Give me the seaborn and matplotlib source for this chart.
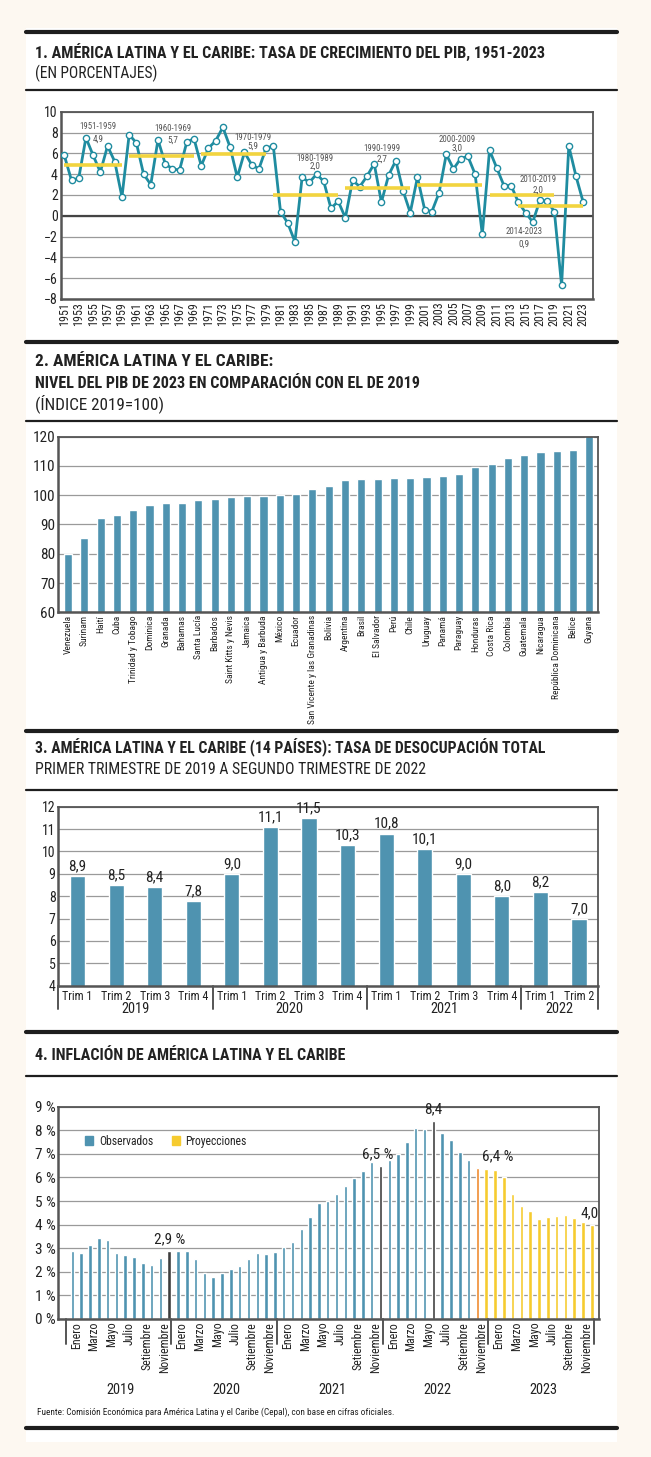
import matplotlib
matplotlib.use('Agg')
import matplotlib.pyplot as plt
import pandas as pd
import seaborn as sns
from matplotlib import font_manager
from matplotlib.lines import Line2D
from matplotlib.patches import Rectangle
from matplotlib.transforms import blended_transform_factory

W, H = 651, 1457

# ---------------------------------------------------------------- data
years = list(range(1951, 2024))
growth = [5.8, 3.4, 3.6, 7.5, 5.8, 4.2, 6.7, 5.2, 1.8,
          7.8, 7.0, 4.0, 3.0, 7.3, 5.0, 4.5, 4.4, 7.1, 7.4,
          4.8, 6.5, 7.2, 8.5, 6.6, 3.7, 6.1, 4.9, 4.5, 6.5,
          6.7, 0.4, -0.7, -2.5, 3.7, 3.2, 4.0, 3.3, 0.7, 1.4,
          -0.2, 3.4, 2.8, 3.8, 5.0, 1.3, 3.9, 5.3, 2.4, 0.3,
          3.7, 0.6, 0.4, 2.2, 5.9, 4.5, 5.5, 5.7, 4.0, -1.8,
          6.3, 4.6, 2.9, 2.9, 1.3, 0.3, -0.6, 1.5, 1.4, 0.4,
          -6.7, 6.7, 3.8, 1.3]
periods = ['1951-1959', '1960-1969', '1970-1979', '1980-1989',
           '1990-1999', '2000-2009', '2010-2019', '2014-2023']
period_start = [1951, 1960, 1970, 1980, 1990, 2000, 2010, 2014]
period_end = [1959, 1969, 1979, 1989, 1999, 2009, 2019, 2023]
period_avg = [4.9, 5.7, 5.9, 2.0, 2.7, 3.0, 2.0, 0.9]

countries = ['Venezuela', 'Surinam', 'Haití', 'Cuba', 'Trinidad y Tobago',
             'Dominica', 'Granada', 'Bahamas', 'Santa Lucía', 'Barbados',
             'Saint Kitts y Nevis', 'Jamaica', 'Antigua y Barbuda', 'México',
             'Ecuador', 'San Vicente y las Granadinas', 'Bolivia',
             'Argentina', 'Brasil', 'El Salvador', 'Perú', 'Chile',
             'Uruguay', 'Panamá', 'Paraguay', 'Honduras', 'Costa Rica',
             'Colombia', 'Guatemala', 'Nicaragua', 'República Dominicana',
             'Belice', 'Guyana']
gdp_index = [79.8, 85.5, 92.1, 93.3, 95.0, 96.5, 97.2, 97.4, 98.4, 98.7,
             99.4, 99.9, 99.9, 100.0, 100.5, 102.2, 103.0, 105.1, 105.5,
             105.5, 105.9, 105.8, 106.2, 106.7, 107.1, 109.8, 110.6, 112.6,
             113.9, 114.8, 115.0, 115.3, 121.0]

quarters = ['Trim 1', 'Trim 2', 'Trim 3', 'Trim 4'] * 3 + ['Trim 1', 'Trim 2']
quarter_years = ['2019'] * 4 + ['2020'] * 4 + ['2021'] * 4 + ['2022'] * 2
unemployment = [8.9, 8.5, 8.4, 7.8, 9.0, 11.1, 11.5, 10.3,
                10.8, 10.1, 9.0, 8.0, 8.2, 7.0]

month_names = ['Enero', 'Febrero', 'Marzo', 'Abril', 'Mayo', 'Junio', 'Julio',
               'Agosto', 'Setiembre', 'Octubre', 'Noviembre', 'Diciembre']
inflation_years = ['2019', '2020', '2021', '2022', '2023']
inflation = [2.87, 2.81, 3.12, 3.43, 3.33, 2.78, 2.73, 2.61, 2.36, 2.27, 2.57, 2.9,
             2.87, 2.9, 2.54, 1.96, 1.79, 1.96, 2.1, 2.25, 2.53, 2.78, 2.75, 2.82,
             3.04, 3.28, 3.8, 4.34, 4.9, 5.0, 5.3, 5.65, 5.99, 6.27, 6.65, 6.5,
             6.72, 7.0, 7.49, 8.08, 8.04, 8.4, 7.87, 7.58, 7.08, 6.74, 6.4, 6.38,
             6.31, 6.0, 5.28, 4.79, 4.59, 4.24, 4.32, 4.38, 4.41, 4.28, 4.11, 4.0]
highlight_months = [11, 35, 41]
last_observed = 46
inflation_notes = ['2,9 %', '6,5 %', '8,4', '6,4 %', '4,0']
inflation_note_idx = [11, 35, 41, 46, 59]

# ---------------------------------------------------------------- style
CREAM = '#fdf8f1'
BLUE = '#4f93b0'
TEAL = '#1f8ca0'
YELLOW = '#f2d43f'
DARK = '#3d3d3d'
ORANGE = '#ef8a2c'
PROJ = '#f6cb2f'
GRID = '#9a9a9a'
SPINE = '#555555'

sns.set_theme(style='white')

# the reference uses a condensed grotesque; take the narrowest family available
entries = font_manager.fontManager.ttflist
names = {f.name for f in entries}
STRETCH = 'normal'
if 'Liberation Sans Narrow' in names:
    FAM = 'Liberation Sans Narrow'
elif 'Roboto Condensed' in names:
    FAM = 'Roboto Condensed'
elif any(f.name == 'DejaVu Sans' and str(f.stretch) == 'condensed' for f in entries):
    FAM, STRETCH = 'DejaVu Sans', 'condensed'
elif 'Roboto' in names:
    FAM = 'Roboto'
else:
    FAM = 'DejaVu Sans'
plt.rcParams['font.family'] = [FAM, 'DejaVu Sans']
plt.rcParams['font.stretch'] = STRETCH
plt.rcParams['text.color'] = '#222222'
plt.rcParams['xtick.color'] = '#222222'
plt.rcParams['ytick.color'] = '#222222'

fig = plt.figure(figsize=(W / 100, H / 100), dpi=100, facecolor=CREAM)
renderer = fig.canvas.get_renderer()
GROW = 1.12  # reference glyphs are taller for their width than ours


def fit(s, target_px, cap=None, **kw):
    """Font size (pt) that makes string s about target_px wide."""
    t = fig.text(0, 0, s, fontsize=10, **kw)
    w = t.get_window_extent(renderer).width
    t.remove()
    size = 10 * target_px / w
    return min(size, cap) if cap else size


def fx(x):
    return x / W


def fy(y):
    return 1 - y / H


def px_axes(left, top, right, bottom):
    return fig.add_axes([fx(left), fy(bottom), (right - left) / W, (bottom - top) / H])


def rule(y, lw):
    fig.add_artist(Line2D([fx(26), fx(617)], [fy(y), fy(y)], lw=lw, color='#1e1e1e'))


def style_axes(ax):
    ax.set_facecolor('white')
    ax.grid(axis='y', color=GRID, lw=0.9)
    ax.grid(axis='x', visible=False)
    ax.set_axisbelow(True)
    for side in ['left', 'right', 'top', 'bottom']:
        ax.spines[side].set_visible(True)
        ax.spines[side].set_color(SPINE)
        ax.spines[side].set_linewidth(1.3)
    ax.spines['left'].set_linewidth(1.8)
    ax.spines['bottom'].set_linewidth(1.8)
    ax.tick_params(length=0, pad=2)
    ax.set_xlabel('')
    ax.set_ylabel('')


fig.add_artist(Rectangle((fx(26), fy(1442)), (617 - 26) / W, (1442 - 28) / H,
                         transform=fig.transFigure, facecolor='white', edgecolor='none', zorder=0))

for y in [32, 342, 731, 1032, 1428]:
    rule(y, 3.0)
for y in [90, 421, 790, 1076]:
    rule(y, 1.6)

titles = [
    ('1. AMÉRICA LATINA Y EL CARIBE: TASA DE CRECIMIENTO DEL PIB, 1951-2023', 52, 510, True),
    ('(EN PORCENTAJES)', 73, 123, False),
    ('2. AMÉRICA LATINA Y EL CARIBE:', 362, 283, True),
    ('NIVEL DEL PIB DE 2023 EN COMPARACIÓN CON EL DE 2019', 383, 385, True),
    ('(ÍNDICE 2019=100)', 404, 128, False),
    ('3. AMÉRICA LATINA Y EL CARIBE (14 PAÍSES): TASA DE DESOCUPACIÓN TOTAL', 748, 510, True),
    ('PRIMER TRIMESTRE DE 2019 A SEGUNDO TRIMESTRE DE 2022', 770, 390, False),
    ('4. INFLACIÓN DE AMÉRICA LATINA Y EL CARIBE', 1056, 310, True),
]
for txt, y, width, bold in titles:
    weight = 'bold' if bold else 'normal'
    fig.text(fx(35), fy(y), txt, fontsize=fit(txt, width, cap=12.5, fontweight=weight),
             fontweight=weight, va='center', ha='left')
source = ('Fuente: Comisión Económica para América Latina y el Caribe (Cepal), '
          'con base en cifras oficiales.')
fig.text(fx(37), fy(1412), source, fontsize=fit(source, 356, cap=7), va='center', ha='left')

# ---------------------------------------------------------------- 1. PIB growth
ax1 = px_axes(60.7, 111.7, 593.3, 299)
style_axes(ax1)
ax1.axhline(0, color='#444444', lw=1.6, zorder=1.5)
sns.lineplot(x=years, y=growth, ax=ax1, color=TEAL, lw=2, marker='o', ms=4.5,
             mfc='white', mec=TEAL, mew=1.0, zorder=3)
ax1.hlines(period_avg, period_start, period_end, color=YELLOW, lw=2.6, zorder=4)
label_x = [1955.7, 1966.1, 1977.2, 1985.8, 1995.1, 2005.5, 2016.7, 2014.8]
label_y = [8.6, 8.4, 7.5, 5.5, 6.5, 7.3, 3.5, -1.5]
value_y = [7.4, 7.3, 6.7, 4.8, 5.4, 6.5, 2.5, -2.7]
period_size = fit('1951-1959', 33 * GROW, cap=7.5)
for p, v, x, y1, y2 in zip(periods, period_avg, label_x, label_y, value_y):
    ax1.text(x, y1, p, fontsize=period_size, color='#555555', ha='center', va='center', zorder=5)
    ax1.text(x, y2, f'{v:.1f}'.replace('.', ','), fontsize=period_size * 1.05, color='#555555',
             ha='center', va='center', zorder=5)
ax1.set_xlim(1950.5, 2024.4)
ax1.set_ylim(-8, 10)
ax1.set_yticks(range(-8, 11, 2))
ax1.set_xticks(years[::2])
ax1.set_xticklabels([str(y) for y in years[::2]], rotation=90,
                    fontsize=fit('1951', 21 * GROW, cap=9))
ax1.tick_params(axis='y', labelsize=fit('10', 12 * GROW, cap=10.5))

# ---------------------------------------------------------------- 2. GDP 2023 vs 2019
ax2 = px_axes(58.3, 436.7, 598.3, 612.3)
style_axes(ax2)
sns.barplot(x=countries, y=gdp_index, ax=ax2, color=BLUE, width=0.5, saturation=1)
ax2.set_ylim(60, 120)
ax2.set_yticks(range(60, 121, 10))
ax2.set_xlim(-0.6, len(countries) - 0.45)
ax2.tick_params(axis='x', rotation=90,
                labelsize=fit('San Vicente y las Granadinas', 108, cap=8.5))
ax2.tick_params(axis='y', labelsize=fit('120', 20 * GROW, cap=11))
ax2.set_xlabel('')

# ---------------------------------------------------------------- 3. unemployment
ax3 = px_axes(58.3, 806.7, 598.3, 985.7)
style_axes(ax3)
pos3 = list(range(len(unemployment)))
sns.barplot(x=pos3, y=unemployment, ax=ax3, color=BLUE, width=0.39, saturation=1)
ax3.set_ylim(4, 12)
ax3.set_yticks(range(4, 13))
ax3.set_xlim(-0.5, len(pos3) - 0.5)
ax3.set_xticks(pos3)
ax3.set_xticklabels(quarters, fontsize=fit('Trim 1', 27 * GROW, cap=9.5))
ax3.tick_params(axis='y', labelsize=fit('12', 12 * GROW, cap=10.5))
ax3.tick_params(axis='x', pad=3)
ax3.bar_label(ax3.containers[0], labels=[f'{v:.1f}'.replace('.', ',') for v in unemployment],
              padding=2, fontsize=fit('8,9', 16 * GROW, cap=11))
tr3 = blended_transform_factory(ax3.transData, ax3.transAxes)
bounds = [-0.5]
for i in range(1, len(quarter_years)):
    if quarter_years[i] != quarter_years[i - 1]:
        bounds.append(i - 0.5)
bounds.append(len(quarter_years) - 0.5)
for b in bounds:
    ax3.add_line(Line2D([b, b], [0, -0.13], transform=tr3, color=SPINE, lw=1.4, clip_on=False))
year_size = fit('2019', 25 * GROW, cap=11)
for a, b in zip(bounds[:-1], bounds[1:]):
    ax3.text((a + b) / 2, -0.13, quarter_years[int(a + 0.5)], transform=tr3,
             ha='center', va='center', fontsize=year_size)

# ---------------------------------------------------------------- 4. inflation
ax4 = px_axes(58.3, 1106.7, 599.3, 1319)
style_axes(ax4)
status = []
for i in range(len(inflation)):
    if i in highlight_months:
        status.append('Destacado')
    elif i == last_observed:
        status.append('Último')
    elif i > last_observed:
        status.append('Proyecciones')
    else:
        status.append('Observados')
df4 = pd.DataFrame({'pos': range(len(inflation)), 'valor': inflation, 'tipo': status})
palette4 = {'Observados': BLUE, 'Destacado': DARK, 'Último': ORANGE, 'Proyecciones': PROJ}
sns.barplot(data=df4, x='pos', y='valor', hue='tipo', palette=palette4, dodge=False,
            width=0.4, saturation=1, legend=False, ax=ax4)
ax4.set_ylim(0, 9)
ax4.set_yticks(range(0, 10))
ax4.set_yticklabels([f'{v} %' for v in range(0, 10)])
ax4.tick_params(axis='y', labelsize=fit('9 %', 21 * GROW, cap=11))
ax4.set_xlim(-1.6, 59.85)
tick_pos = [i + 0.45 for i in range(0, len(inflation), 2)]
ax4.set_xticks(tick_pos)
ax4.set_xticklabels([month_names[i % 12] for i in range(0, len(inflation), 2)],
                    rotation=90, fontsize=fit('Noviembre', 45 * GROW, cap=9))
ax4.set_xlabel('')
ax4.set_ylabel('')
tr4 = blended_transform_factory(ax4.transData, ax4.transAxes)
for k in range(len(inflation_years) + 1):
    b = 12 * k - 0.75
    ax4.add_line(Line2D([b, b], [0, -0.118], transform=tr4, color=SPINE, lw=1.4, clip_on=False))
for k, yr in enumerate(inflation_years):
    ax4.text(12 * k + 5.5, -0.334, yr, transform=tr4, ha='center', va='center', fontsize=year_size)
note_size = fit('2,9 %', 29 * GROW, cap=11)
note_dx = [0, -0.3, 0, 0.5, -0.3]
note_ha = ['center', 'center', 'center', 'left', 'center']
for idx, txt, dx, ha in zip(inflation_note_idx, inflation_notes, note_dx, note_ha):
    ax4.text(idx + dx, inflation[idx] + 0.2, txt, ha=ha, va='bottom', fontsize=note_size)
handles = [Rectangle((0, 0), 1, 1, color=BLUE), Rectangle((0, 0), 1, 1, color=PROJ)]
ax4.legend(handles, ['Observados', 'Proyecciones'], loc='center left',
           bbox_to_anchor=(0.03, 0.838), ncol=2, frameon=False,
           fontsize=fit('Observados', 54, cap=9.5),
           handlelength=0.7, handleheight=0.7, columnspacing=1.6, handletextpad=0.5)

fig.savefig('out.png', dpi=100, facecolor=CREAM)
